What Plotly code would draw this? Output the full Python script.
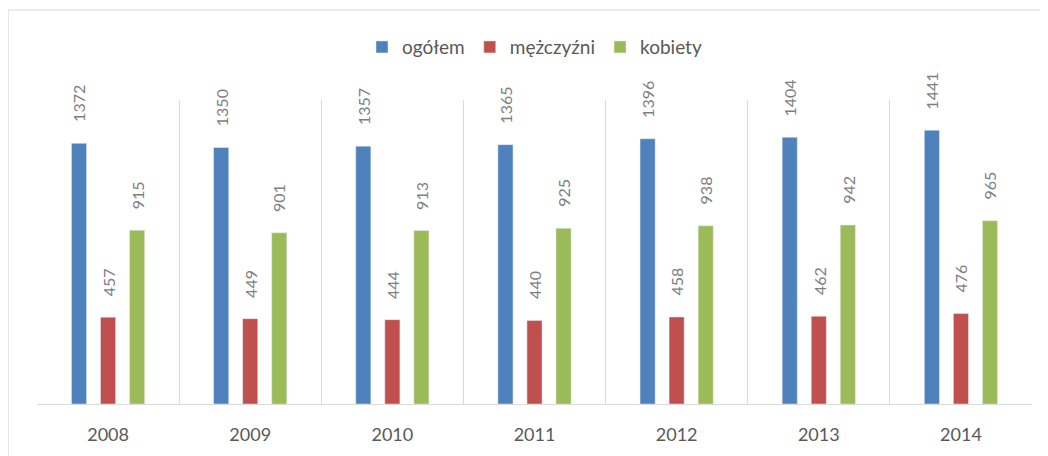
import plotly.graph_objects as go

years = [2008, 2009, 2010, 2011, 2012, 2013, 2014]
ogolem = [1372, 1350, 1357, 1365, 1396, 1404, 1441]
mezczyzni = [457, 449, 444, 440, 458, 462, 476]
kobiety = [915, 901, 913, 925, 938, 942, 965]

series = [
    ("ogółem", ogolem, "#4F81BD"),
    ("mężczyźni", mezczyzni, "#C0504D"),
    ("kobiety", kobiety, "#9BBB59"),
]
label_shift = [-29, 0, 29]

fig = go.Figure()
for (name, vals, color), dx in zip(series, label_shift):
    fig.add_trace(go.Bar(x=years, y=vals, name=name, marker_color=color))
    for yr, v in zip(years, vals):
        fig.add_annotation(
            x=yr, y=v, text=str(v), showarrow=False, textangle=-90,
            xshift=dx, yshift=19, yanchor="bottom", xanchor="center",
            font=dict(size=16, color="#7f7f7f", family="Lato, sans-serif"),
        )

fig.update_layout(
    width=1040, height=448,
    margin=dict(l=29, r=16, t=92, b=52, autoexpand=False),
    paper_bgcolor="white", plot_bgcolor="white",
    barmode="group", bargap=0.387, bargroupgap=0.48,
    font=dict(family="Lato, sans-serif", color="#595959"),
    legend=dict(orientation="h", x=0.5, xanchor="center", y=1.174, yanchor="middle",
                font=dict(size=19, color="#595959"), bgcolor="rgba(0,0,0,0)",
                traceorder="normal"),
    showlegend=True,
)
fig.update_xaxes(
    range=[2007.5, 2014.5], tickvals=years, ticktext=[str(y) for y in years],
    showgrid=False, showline=True, linecolor="#d9d9d9", linewidth=1,
    tickfont=dict(size=18, color="#595959"), ticks="", ticklabelstandoff=14,
    minor=dict(tick0=2007.5, dtick=1, showgrid=True, gridcolor="#d9d9d9", gridwidth=1, ticks=""),
    zeroline=False,
)
fig.update_yaxes(range=[0, 1600], showgrid=False, showticklabels=False, zeroline=False)

fig.add_shape(type="rect", xref="paper", yref="paper",
              x0=-0.029, x1=1.05, y0=-0.3, y1=1.296,
              line=dict(color="#d9d9d9", width=1), fillcolor="rgba(0,0,0,0)", layer="below")

fig.write_html("out.html")
